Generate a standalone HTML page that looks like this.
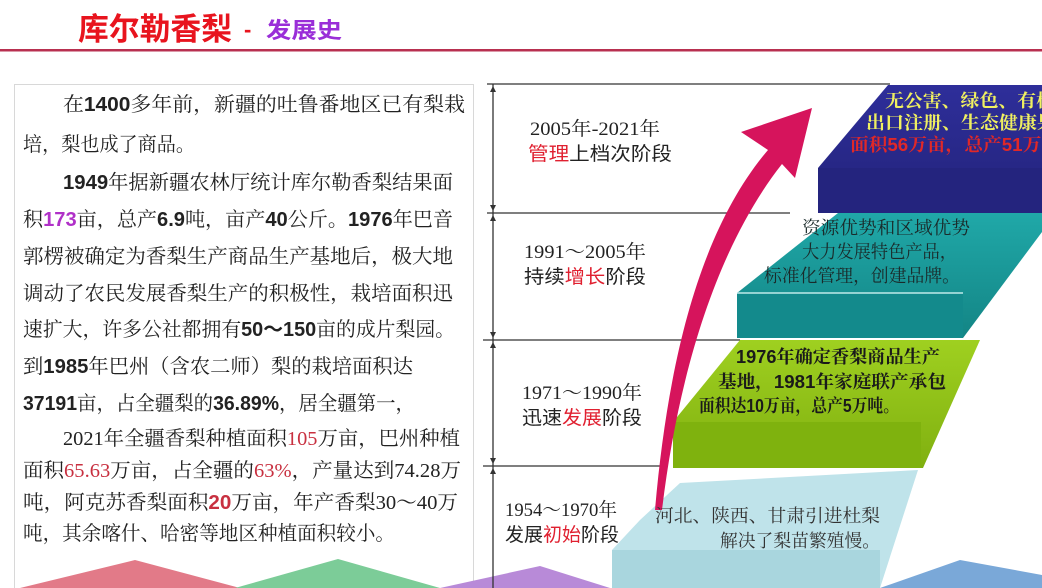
<!DOCTYPE html>
<html><head><meta charset="utf-8"><style>
html,body{margin:0;padding:0;background:#fff;}
svg{display:block;}
.s{font-family:"Liberation Serif","Noto Serif CJK SC",serif;}
.h{font-family:"Liberation Sans","Noto Sans CJK SC",sans-serif;}
.b{font-family:"Liberation Sans","Noto Sans CJK SC",sans-serif;font-weight:bold;}
</style></head><body>
<svg width="1042" height="588" viewBox="0 0 1042 588" xmlns="http://www.w3.org/2000/svg">
<defs>
<linearGradient id="gb" x1="0" y1="0" x2="0" y2="1"><stop offset="0" stop-color="#2e2e9a"/><stop offset="1" stop-color="#23237a"/></linearGradient>
<linearGradient id="gt" x1="0" y1="0" x2="0" y2="1"><stop offset="0" stop-color="#20a8a8"/><stop offset="1" stop-color="#138585"/></linearGradient>
<linearGradient id="gg" x1="0" y1="0" x2="0" y2="1"><stop offset="0" stop-color="#9fd020"/><stop offset="1" stop-color="#80b010"/></linearGradient>
</defs>
<!-- title -->
<text x="78" y="40" class="b" font-size="31" fill="#e8141e" textLength="154" lengthAdjust="spacingAndGlyphs">库尔勒香梨</text>
<text x="244" y="37" class="b" font-size="22" fill="#e8141e">-</text>
<text x="266" y="38" class="b" font-size="22" fill="#9a2ed8" textLength="76" lengthAdjust="spacingAndGlyphs">发展史</text>
<rect x="0" y="49" width="1042" height="2.5" fill="#b83050"/>
<!-- left box -->
<rect x="14.5" y="84.5" width="459" height="510" fill="#fff" stroke="#d8d8d8"/>
<!-- bottom decorations -->
<polygon points="20,588 135,560 240,588" fill="#e27a88"/>
<polygon points="235,588 338,559 440,588" fill="#7ccc98"/>
<polygon points="440,588 540,566 610,588" fill="#b88ad8"/>
<polygon points="880,588 960,560 1042,575 1042,588" fill="#7aa8d8"/>
<g class="s" font-size="20" fill="#222">
<text x="63" y="111" textLength="402" lengthAdjust="spacingAndGlyphs">在<tspan class="b">1400</tspan>多年前，新疆的吐鲁番地区已有梨栽</text>
<text x="23" y="151" textLength="172" lengthAdjust="spacingAndGlyphs">培，梨也成了商品。</text>
<text x="63" y="189" textLength="390" lengthAdjust="spacingAndGlyphs"><tspan class="b">1949</tspan>年据新疆农林厅统计库尔勒香梨结果面</text>
<text x="23" y="226" textLength="430" lengthAdjust="spacingAndGlyphs">积<tspan class="b" fill="#b030c8">173</tspan>亩，总产<tspan class="b">6.9</tspan>吨，亩产<tspan class="b">40</tspan>公斤。<tspan class="b">1976</tspan>年巴音</text>
<text x="23" y="263" textLength="430" lengthAdjust="spacingAndGlyphs">郭楞被确定为香梨生产商品生产基地后，极大地</text>
<text x="23" y="300" textLength="430" lengthAdjust="spacingAndGlyphs">调动了农民发展香梨生产的积极性，栽培面积迅</text>
<text x="23" y="336" textLength="432" lengthAdjust="spacingAndGlyphs">速扩大，许多公社都拥有<tspan class="b">50～150</tspan>亩的成片梨园。</text>
<text x="23" y="373" textLength="390" lengthAdjust="spacingAndGlyphs">到<tspan class="b">1985</tspan>年巴州（含农二师）梨的栽培面积达</text>
<text x="23" y="410" textLength="392" lengthAdjust="spacingAndGlyphs"><tspan class="b">37191</tspan>亩，占全疆梨的<tspan class="b">36.89%</tspan>，居全疆第一，</text>
<text x="63" y="445" textLength="397" lengthAdjust="spacingAndGlyphs">2021年全疆香梨种植面积<tspan fill="#c83040">105</tspan>万亩，巴州种植</text>
<text x="23" y="477" textLength="438" lengthAdjust="spacingAndGlyphs">面积<tspan fill="#c83040">65.63</tspan>万亩，占全疆的<tspan fill="#c83040">63%</tspan>，产量达到74.28万</text>
<text x="23" y="509" textLength="435" lengthAdjust="spacingAndGlyphs">吨，阿克苏香梨面积<tspan fill="#c83040" class="b">20</tspan>万亩，年产香梨30～40万</text>
<text x="23" y="540" textLength="372" lengthAdjust="spacingAndGlyphs">吨，其余喀什、哈密等地区种植面积较小。</text>
</g>
<!-- timeline axis -->
<g stroke="#333" stroke-width="1.3" fill="#333">
<line x1="493" y1="84" x2="493" y2="588"/>
<line x1="487" y1="84" x2="890" y2="84"/>
<line x1="487" y1="213" x2="790" y2="213"/>
<line x1="483" y1="340" x2="740" y2="340"/>
<line x1="483" y1="466" x2="665" y2="466"/>
<polygon points="493,86 490,92 496,92" stroke="none"/>
<polygon points="493,211 490,205 496,205" stroke="none"/>
<polygon points="493,215 490,221 496,221" stroke="none"/>
<polygon points="493,338 490,332 496,332" stroke="none"/>
<polygon points="493,342 490,348 496,348" stroke="none"/>
<polygon points="493,464 490,458 496,458" stroke="none"/>
<polygon points="493,468 490,474 496,474" stroke="none"/>
</g>
<!-- light blue step -->
<polygon points="680,483 918,470 880,588 612,588 612,550 640,520" fill="#bfe3ea"/>
<rect x="612" y="550" width="268" height="38" fill="#a9d6de"/>
<!-- green step -->
<polygon points="740,340 980,340 923,468 673,468 673,422" fill="url(#gg)"/>
<rect x="673" y="422" width="248" height="46" fill="#7fb20e"/>
<!-- teal step -->
<polygon points="838,213 1042,213 1042,232 963,338 737,338 737,293" fill="url(#gt)"/>
<rect x="737" y="293" width="226" height="45" fill="#138a8c"/>
<line x1="737" y1="293" x2="963" y2="293" stroke="#bfeaea" stroke-width="1.5"/>
<!-- blue step -->
<polygon points="888,85 1042,85 1042,213 818,213 818,168" fill="url(#gb)"/>
<rect x="818" y="168" width="224" height="45" fill="#24247e"/>
<!-- magenta arrow -->
<path d="M655,510 C668,360 700,230 768,150 L741,132 L812,108 L795,178 L782,164 C722,240 680,360 662,510 Z" fill="#d6145c"/>
<!-- right labels -->
<g class="s" font-size="19" fill="#222">
<text x="530" y="135" textLength="130" lengthAdjust="spacingAndGlyphs">2005年-2021年</text>
<text x="528" y="160" textLength="144" lengthAdjust="spacingAndGlyphs" class="h"><tspan fill="#e02030">管理</tspan>上档次阶段</text>
<text x="524" y="258" textLength="122" lengthAdjust="spacingAndGlyphs">1991～2005年</text>
<text x="524" y="283" textLength="122" lengthAdjust="spacingAndGlyphs" class="h">持续<tspan fill="#e02030">增长</tspan>阶段</text>
<text x="522" y="399" textLength="120" lengthAdjust="spacingAndGlyphs">1971～1990年</text>
<text x="522" y="424" textLength="120" lengthAdjust="spacingAndGlyphs" class="h">迅速<tspan fill="#e02030">发展</tspan>阶段</text>
<text x="505" y="516" textLength="112" lengthAdjust="spacingAndGlyphs">1954～1970年</text>
<text x="505" y="541" textLength="114" lengthAdjust="spacingAndGlyphs" class="h">发展<tspan fill="#e02030">初始</tspan>阶段</text>
</g>
<!-- step texts -->
<g class="s" font-size="18" font-weight="bold">
<text x="885" y="107" fill="#f0f060" textLength="170" lengthAdjust="spacingAndGlyphs">无公害、绿色、有机</text>
<text x="866" y="129" fill="#f0f060" textLength="190" lengthAdjust="spacingAndGlyphs">出口注册、生态健康果</text>
<text x="850" y="151" fill="#e02828" textLength="210" lengthAdjust="spacingAndGlyphs">面积<tspan class="b">56</tspan>万亩，总产<tspan class="b">51</tspan>万吨</text>
</g>
<g class="s" font-size="18" fill="#1a2a2a">
<text x="802" y="234" textLength="168" lengthAdjust="spacingAndGlyphs">资源优势和区域优势</text>
<text x="802" y="258" textLength="155" lengthAdjust="spacingAndGlyphs">大力发展特色产品，</text>
<text x="764" y="282" textLength="196" lengthAdjust="spacingAndGlyphs">标准化管理，创建品牌。</text>
</g>
<g class="s" font-size="18" fill="#1a1a1a" font-weight="bold">
<text x="736" y="363" textLength="204" lengthAdjust="spacingAndGlyphs"><tspan class="b">1976</tspan>年确定香梨商品生产</text>
<text x="718" y="388" textLength="228" lengthAdjust="spacingAndGlyphs">基地，<tspan class="b">1981</tspan>年家庭联产承包</text>
<text x="699" y="412" textLength="200" lengthAdjust="spacingAndGlyphs">面积达<tspan class="b">10</tspan>万亩，总产<tspan class="b">5</tspan>万吨。</text>
</g>
<g class="s" font-size="18" fill="#333">
<text x="655" y="522" textLength="225" lengthAdjust="spacingAndGlyphs">河北、陕西、甘肃引进杜梨</text>
<text x="720" y="547" textLength="160" lengthAdjust="spacingAndGlyphs">解决了梨苗繁殖慢。</text>
</g>
</svg>
</body></html>
